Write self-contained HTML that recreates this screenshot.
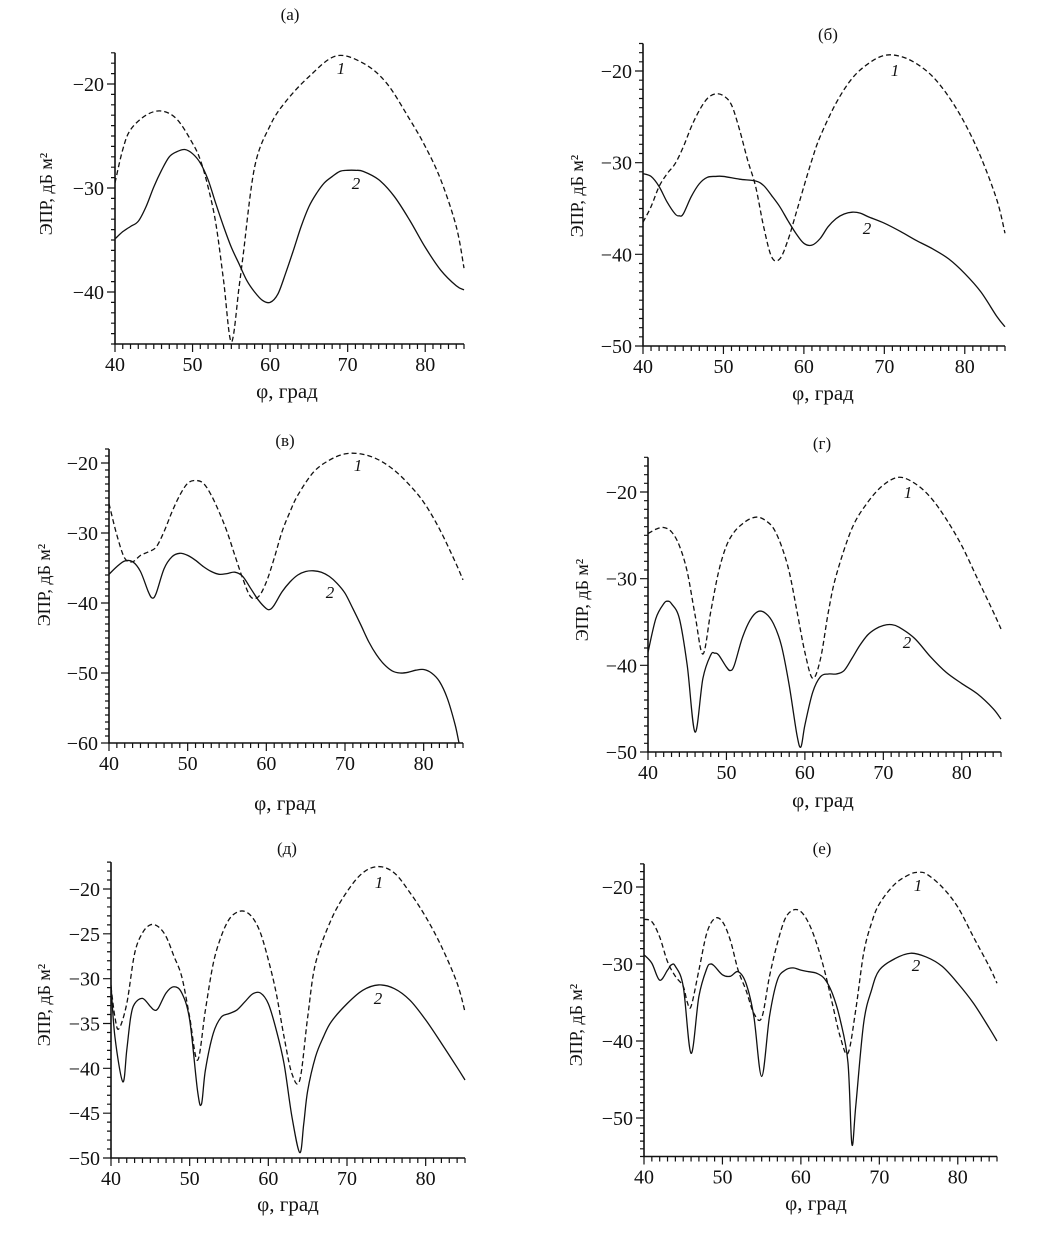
<!DOCTYPE html>
<html><head><meta charset="utf-8">
<style>
html,body{margin:0;padding:0;background:#fff;}
svg{display:block;}
text{font-family:"Liberation Serif","DejaVu Serif",serif;fill:#111;}
</style></head>
<body>
<svg id="fig" width="1055" height="1236" viewBox="0 0 1055 1236" xmlns="http://www.w3.org/2000/svg"></svg>
<script>
// ---------- DATA ----------
// panel (а)
const aPhi1 = [40,41,42,44,46,48,50,51,52,53,54,55,56,56.5,58,60,62,65,68.5,72,75,78,80,82,84,85];
const aVal1 = [-29.5,-26.3,-24.4,-23,-22.6,-23.4,-25.7,-27.3,-29.9,-33.4,-38.9,-44.8,-39.5,-36.6,-28,-24,-21.7,-19.3,-17.3,-18,-19.9,-23.4,-26,-29.2,-33.7,-37.7];
const aPhi2 = [40,41,42,43,44,45,46,47,48,49,50,51,52,53,54,55,56,57,58,59,60,61,62,63,64,65,66,67,68,69,70,71,72,74,76,78,80,82,84,85];
const aVal2 = [-34.9,-34.2,-33.7,-33.2,-31.8,-29.9,-28.3,-27,-26.5,-26.3,-26.7,-27.6,-29.2,-31.5,-33.7,-35.7,-37.3,-38.9,-40,-40.8,-41,-40.2,-38.2,-36,-33.7,-31.8,-30.5,-29.5,-28.9,-28.4,-28.3,-28.3,-28.4,-29.2,-30.8,-33.1,-35.7,-37.9,-39.4,-39.8];
// panel (б)
const bPhi1 = [40,41,42,43,44,45,46,47,48,49,50,51,52,53,54,55,56,57,58,59,60,61,62,64,66,68,70,72,74,76,78,80,82,84,85];
const bVal1 = [-36.5,-34.8,-32.6,-31.2,-30.1,-28.3,-26.1,-24.3,-23,-22.5,-22.7,-23.7,-26.4,-29.7,-32.6,-37,-40.3,-40.5,-38.5,-35.6,-32.6,-29.7,-27.2,-23.5,-20.8,-19.2,-18.3,-18.4,-19.2,-20.6,-22.8,-25.7,-29.4,-34.1,-37.7];
const bPhi2 = [40,41,42,43,44,44.5,45,46,47,48,49,50,52,54,55,56,57,58,59,60,61,62,63,64,65,66,67,68,70,72,74,76,78,80,82,84,85];
const bVal2 = [-31.2,-31.5,-32.6,-34.3,-35.6,-35.8,-35.6,-33.7,-32.3,-31.6,-31.5,-31.5,-31.8,-32,-32.5,-33.6,-34.8,-36.3,-37.7,-38.8,-39,-38.3,-37,-36.1,-35.6,-35.4,-35.5,-35.9,-36.6,-37.5,-38.5,-39.4,-40.5,-42.1,-44.1,-46.8,-47.9];
// panel (в)
const cPhi1 = [40,41,42,43,44,45,46,47,48,49,50,51,52,53,54,55,56,57,58,59,60,61,62,63,64,66,68,70,72,74,76,78,80,82,84,85];
const cVal1 = [-25.8,-30.3,-33.6,-34.1,-33.2,-32.7,-32,-29.8,-27,-24.6,-22.9,-22.5,-22.9,-24.6,-27,-29.8,-33.2,-36.5,-39.1,-39.1,-37,-33.6,-29.8,-27,-24.6,-21.3,-19.6,-18.7,-18.7,-19.4,-20.8,-22.9,-25.6,-29.4,-34.1,-36.7];
const cPhi2 = [40,41,42,43,44,45,45.5,46,47,48,49,50,51,52,53,54,55,56,57,58,59,60,60.5,61,62,63,64,65,66,67,68,69,70,71,72,73,74,75,76,77,78,79,80,81,82,83,84,84.5,85];
const cVal2 = [-35.9,-34.8,-34,-34.1,-35.5,-38.4,-39.3,-38.6,-35.1,-33.4,-32.9,-33.2,-33.9,-34.8,-35.5,-35.9,-35.8,-35.6,-36.2,-37.9,-39.6,-40.8,-40.9,-40.3,-38.4,-37,-36,-35.5,-35.4,-35.6,-36.2,-37.2,-38.6,-40.8,-43.1,-45.5,-47.4,-48.8,-49.7,-50,-49.9,-49.6,-49.5,-50,-51.2,-53.6,-57.4,-60,-62];
// panel (г)
const dPhi1 = [40,41,42,43,44,45,46,47,48,49,50,51,52,53,54,55,56,57,58,59,60,61,62,63,64,66,68,70,72,74,76,78,80,82,84,85];
const dVal1 = [-24.8,-24.3,-24.1,-24.6,-26.2,-29.2,-34.2,-38.7,-33.8,-29.2,-26.2,-24.6,-23.7,-23.1,-22.9,-23.3,-24.2,-26.2,-29.2,-33.8,-38.5,-41.5,-39.2,-33.8,-29.6,-24.2,-21.2,-19.2,-18.3,-19,-20.6,-23.1,-26.2,-30,-33.8,-35.8];
const dPhi2 = [40,41,42,42.5,43,44,45,46,47,48,48.5,49,50,50.5,51,52,53,54,55,56,57,58,59,59.5,60,61,62,63,64,65,66,67,68,69,70,71,72,74,76,78,80,82,84,85];
const dVal2 = [-38.5,-34.6,-32.9,-32.6,-32.9,-34.6,-40,-47.7,-41.5,-38.8,-38.6,-38.8,-40.2,-40.6,-40,-36.9,-34.8,-33.8,-34,-35.2,-37.7,-42.3,-48.1,-49.4,-46.9,-43.1,-41.3,-41,-41,-40.6,-39.2,-37.7,-36.5,-35.8,-35.4,-35.3,-35.6,-36.9,-39,-40.8,-42.1,-43.3,-45,-46.2];
// panel (д)
const ePhi1 = [40,40.5,41,42,43,44,45,46,47,48,49,50,51,52,53,54,55,56,57,58,59,60,61,62,63,64,65,66,68,70,72,74,76,78,80,82,84,85];
const eVal1 = [-30.9,-34.3,-35.6,-32.8,-27.2,-24.9,-24,-24.2,-25.3,-27.5,-29.8,-34.3,-39.1,-33.5,-28.3,-25.3,-23.4,-22.6,-22.5,-23.2,-24.9,-27.9,-31.6,-36.5,-40.6,-41.3,-34.3,-28.3,-23.4,-20.3,-18.2,-17.5,-18.2,-20.4,-23.1,-26.4,-30.5,-33.7];
const ePhi2 = [40,40.5,41.5,42,42.5,43,44,45,45.5,46,47,48,49,50,51,51.5,52,53,54,55,56,57,58,59,60,61,62,63,64,64.5,65,66,67,68,70,72,74,76,78,80,82,84,85];
const eVal2 = [-30.7,-36.5,-41.5,-38,-34.3,-32.8,-32.2,-33.1,-33.5,-33.3,-31.6,-30.9,-31.6,-34.6,-42.5,-44,-40.2,-36.1,-34.3,-33.9,-33.5,-32.6,-31.7,-31.6,-32.8,-35.7,-39.5,-45.4,-49.4,-46.2,-42.5,-38.7,-36.5,-34.8,-32.8,-31.3,-30.7,-31.1,-32.4,-34.6,-37.2,-39.9,-41.3];
// panel (е)
const fPhi1 = [40,41,42,43,44,45,45.5,46,47,48,49,50,51,52,53,54,55,56,57,58,59,60,61,62,63,64,65,66,67,68,69,70,72,74,75,76,78,80,82,84,85];
const fVal1 = [-24.2,-24.5,-26.5,-29.7,-31.6,-32.9,-34.9,-35.5,-30.8,-26,-24.1,-24.5,-26.9,-30.8,-33.4,-36.4,-37,-31.6,-27.3,-24.1,-23,-23.2,-24.7,-27.3,-30.8,-35.1,-39.4,-41.6,-35.9,-28.6,-24.7,-22.2,-19.6,-18.3,-18.1,-18.3,-20,-22.6,-26.5,-30.3,-32.5];
const fPhi2 = [40,41,42,43,43.5,44,45,46,47,48,48.5,49,50,51,52,53,54,55,56,57,58,59,60,61,62,63,64,65,66,66.5,67,68,69,70,72,74,76,78,80,82,84,85];
const fVal2 = [-28.8,-29.9,-32.1,-30.8,-30.1,-30.3,-32.9,-41.6,-34.2,-30.6,-30,-30.3,-31.4,-31.6,-31,-32.5,-36.8,-44.6,-36.8,-32.1,-30.8,-30.5,-30.8,-31,-31.2,-31.9,-33.8,-37.2,-42.8,-53.4,-48.4,-37.7,-33.4,-30.8,-29.3,-28.6,-29.1,-30.3,-32.5,-35.1,-38.3,-40];

// tick label values
const xTickLabels = [40,50,60,70,80];
const yTicksA = [-20,-30,-40];
const yTicksB = [-20,-30,-40,-50];
const yTicksC = [-20,-30,-40,-50,-60];
const yTicksD = [-20,-30,-40,-50];
const yTicksE = [-20,-25,-30,-35,-40,-45,-50];
const yTicksF = [-20,-30,-40,-50];

// ---------- LAYOUT ----------
const panels = [
 {id:'a',title:'(а)',tx:290,ty:20,x0:115,x1:464,yA:84,vA:-20,yB:292,vB:-40,yMin:-45,yMax:-17,major:10,ticks:yTicksA,
  s1:[aPhi1,aVal1],s2:[aPhi2,aVal2],l1:[341,74],l2:[356,189],ylx:52,yly:194,xlx:287,xly:398},
 {id:'b',title:'(б)',tx:828,ty:40,x0:643,x1:1005,yA:71,vA:-20,yB:346,vB:-50,yMin:-50,yMax:-17,major:10,ticks:yTicksB,
  s1:[bPhi1,bVal1],s2:[bPhi2,bVal2],l1:[895,76],l2:[867,234],ylx:583,yly:196,xlx:823,xly:400},
 {id:'c',title:'(в)',tx:285,ty:446,x0:109,x1:463,yA:463,vA:-20,yB:743,vB:-60,yMin:-60,yMax:-18,major:10,ticks:yTicksC,
  s1:[cPhi1,cVal1],s2:[cPhi2,cVal2],l1:[358,471],l2:[330,598],ylx:50,yly:585,xlx:285,xly:810},
 {id:'d',title:'(г)',tx:822,ty:449,x0:648,x1:1001,yA:492,vA:-20,yB:752,vB:-50,yMin:-50,yMax:-16,major:10,ticks:yTicksD,
  s1:[dPhi1,dVal1],s2:[dPhi2,dVal2],l1:[908,498],l2:[907,648],ylx:588,yly:600,xlx:823,xly:807},
 {id:'e',title:'(д)',tx:287,ty:854,x0:111,x1:465,yA:889,vA:-20,yB:1158,vB:-50,yMin:-50,yMax:-17,major:5,ticks:yTicksE,
  s1:[ePhi1,eVal1],s2:[ePhi2,eVal2],l1:[379,888],l2:[378,1004],ylx:50,yly:1005,xlx:288,xly:1211},
 {id:'f',title:'(е)',tx:822,ty:854,x0:644,x1:997,yA:887,vA:-20,yB:1118,vB:-50,yMin:-55,yMax:-17,major:10,ticks:yTicksF,
  s1:[fPhi1,fVal1],s2:[fPhi2,fVal2],l1:[918,891],l2:[916,971],ylx:582,yly:1025,xlx:816,xly:1210}
];

const NS='http://www.w3.org/2000/svg';
const svg=document.getElementById('fig');
function mk(tag,attrs,parent){const e=document.createElementNS(NS,tag);for(const k in attrs)e.setAttribute(k,attrs[k]);(parent||svg).appendChild(e);return e;}

function catmull(pts){
  let d='M'+pts[0][0].toFixed(2)+','+pts[0][1].toFixed(2);
  for(let i=0;i<pts.length-1;i++){
    const p0=pts[Math.max(0,i-1)],p1=pts[i],p2=pts[i+1],p3=pts[Math.min(pts.length-1,i+2)];
    const c1x=p1[0]+(p2[0]-p0[0])/6,c1y=p1[1]+(p2[1]-p0[1])/6;
    const c2x=p2[0]-(p3[0]-p1[0])/6,c2y=p2[1]-(p3[1]-p1[1])/6;
    d+=' C'+c1x.toFixed(2)+','+c1y.toFixed(2)+' '+c2x.toFixed(2)+','+c2y.toFixed(2)+' '+p2[0].toFixed(2)+','+p2[1].toFixed(2);
  }
  return d;
}

panels.forEach(p=>{
  const g=mk('g',{});
  
  
  const xs=v=>p.x0+(v-40)*(p.x1-p.x0)/45;
  const ys=v=>p.yA+(v-p.vA)*(p.yB-p.yA)/(p.vB-p.vA);
  const yBot=ys(p.yMin), yTop=ys(p.yMax);

  const t=mk('text',{x:p.tx,y:p.ty,'text-anchor':'middle','font-size':17},g);t.textContent=p.title;
  
  

  const ax=mk('path',{d:`M${p.x0},${yTop} L${p.x0},${yBot} L${p.x1},${yBot}`,stroke:'#111','stroke-width':1.6,fill:'none'},g);
  
  

  let td='';
  for(let v=40;v<=85;v++){const len=(v%10===0)?8:5;td+=`M${xs(v).toFixed(2)},${yBot} L${xs(v).toFixed(2)},${yBot+len} `;}
  for(let v=Math.ceil(p.yMin);v<=Math.floor(p.yMax);v++){const len=(v%p.major===0)?8:4;td+=`M${p.x0},${ys(v).toFixed(2)} L${p.x0-len},${ys(v).toFixed(2)} `;}
  const tk=mk('path',{d:td,stroke:'#111','stroke-width':1.2,fill:'none'},g);
  
  

  xTickLabels.forEach(v=>{
    const l=mk('text',{x:xs(v),y:yBot+27,'text-anchor':'middle','font-size':20},g);l.textContent=v;
    
    
  });
  p.ticks.forEach(v=>{
    const l=mk('text',{x:p.x0-11,y:ys(v)+7,'text-anchor':'end','font-size':20},g);l.textContent='\u2212'+Math.abs(v);
    
    
  });

  const xl=mk('text',{x:p.xlx,y:p.xly,'text-anchor':'middle','font-size':21},g);xl.textContent='φ, град';
  
  
  const yl=mk('text',{x:0,y:0,'text-anchor':'middle','font-size':18,transform:`translate(${p.ylx},${p.yly}) rotate(-90)`},g);yl.textContent='ЭПР, дБ м²';
  
  

  const cp=mk('clipPath',{id:'clip'+p.id},g);
  mk('rect',{x:p.x0,y:yTop-20,width:p.x1-p.x0+2,height:yBot-yTop+20},cp);

  const c1=mk('path',{d:catmull(p.s1[0].map((v,i)=>[xs(v),ys(p.s1[1][i])])),stroke:'#111','stroke-width':1.3,fill:'none','stroke-dasharray':'5,3','clip-path':`url(#clip${p.id})`},g);
  
  
  const c2=mk('path',{d:catmull(p.s2[0].map((v,i)=>[xs(v),ys(p.s2[1][i])])),stroke:'#111','stroke-width':1.3,fill:'none','clip-path':`url(#clip${p.id})`},g);
  
  

  const n1=mk('text',{x:p.l1[0],y:p.l1[1],'font-size':17,'font-style':'italic','text-anchor':'middle'},g);n1.textContent='1';
  
  
  const n2=mk('text',{x:p.l2[0],y:p.l2[1],'font-size':17,'font-style':'italic','text-anchor':'middle'},g);n2.textContent='2';
  
  
});
</script>
</body></html>
